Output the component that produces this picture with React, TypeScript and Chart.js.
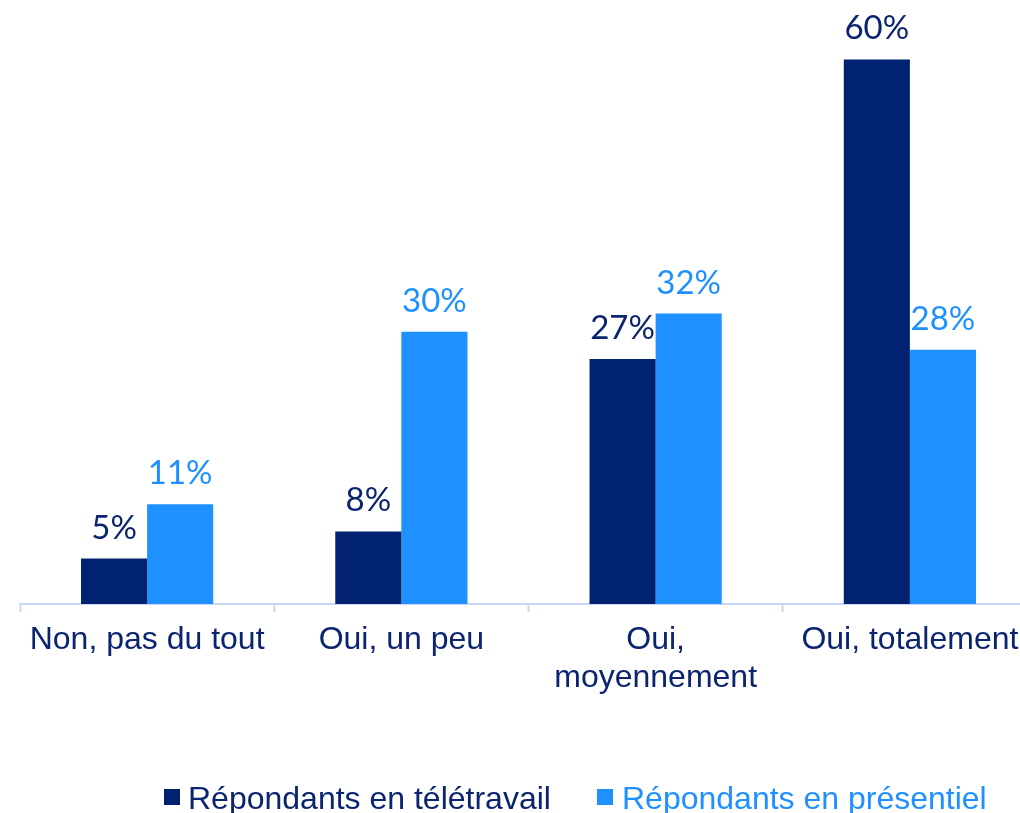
import React, { useEffect, useRef } from "react";
import { Chart, registerables } from "chart.js";

Chart.register(...registerables);

const categories: (string | string[])[] = [
  "Non, pas du tout",
  "Oui, un peu",
  ["Oui,", "moyennement"],
  "Oui, totalement",
];
const teletravail = [5, 8, 27, 60];
const presentiel = [11, 30, 32, 28];
const seriesNames = ["Répondants en télétravail", "Répondants en présentiel"];

const DARK = "#012270";
const LIGHT = "#1e90ff";
const TEXT_DARK = "#0b2470";
const AXIS = "#c9d7f4";

const labelPlugin = {
  id: "valueLabels",
  afterDatasetsDraw(chart: any) {
    const ctx = chart.ctx;
    ctx.save();
    ctx.font = "33px Lato, 'Century Gothic', sans-serif";
    ctx.textAlign = "center";
    ctx.textBaseline = "alphabetic";
    chart.data.datasets.forEach((ds: any, di: number) => {
      const meta = chart.getDatasetMeta(di);
      ctx.fillStyle = di === 0 ? TEXT_DARK : LIGHT;
      meta.data.forEach((bar: any, i: number) => {
        ctx.fillText(`${ds.data[i]}%`, bar.x, bar.y - 20);
      });
    });
    ctx.restore();
  },
};

export default function App() {
  const ref = useRef<HTMLCanvasElement>(null);
  useEffect(() => {
    if (!ref.current) return;
    const chart = new Chart(ref.current, {
      type: "bar",
      data: {
        labels: categories,
        datasets: [
          { label: seriesNames[0], data: teletravail, backgroundColor: DARK },
          { label: seriesNames[1], data: presentiel, backgroundColor: LIGHT },
        ],
      },
      options: {
        animation: false,
        responsive: false,
        layout: { padding: { left: 20, right: 23, top: 14, bottom: 0 } },
        datasets: {
          bar: { categoryPercentage: 0.52, barPercentage: 1 },
        } as any,
        plugins: {
          legend: { display: false },
          tooltip: { enabled: false },
        },
        scales: {
          x: {
            grid: {
              display: true,
              drawOnChartArea: false,
              drawTicks: true,
              tickLength: 8,
              tickColor: AXIS,
              tickWidth: 2,
              offset: true,
            },
            border: { display: true, color: AXIS, width: 2 },
            ticks: {
              color: TEXT_DARK,
              font: { family: "'Liberation Sans', Arial, sans-serif", size: 32, lineHeight: 1.19 },
              padding: 9,
              maxRotation: 0,
              autoSkip: false,
            },
            afterFit: (scale: any) => {
              scale.height = 209;
            },
          },
          y: {
            display: false,
            min: 0,
            max: 65,
          },
        },
      },
      plugins: [labelPlugin],
    });
    return () => chart.destroy();
  }, []);

  const legendText: React.CSSProperties = {
    position: "absolute",
    top: 780,
    fontFamily: "'Liberation Sans', Arial, sans-serif",
    fontSize: 32,
    lineHeight: "36px",
    whiteSpace: "nowrap",
  };
  const square: React.CSSProperties = {
    position: "absolute",
    top: 789,
    width: 16,
    height: 16,
  };

  return (
    <div
      style={{
        position: "fixed",
        left: 0,
        top: 0,
        width: 1020,
        height: 813,
        overflow: "hidden",
        background: "#ffffff",
      }}
    >
      <canvas
        ref={ref}
        width={1060}
        height={813}
        style={{ position: "absolute", left: 0, top: 0, width: 1060, height: 813 }}
      />
      <div style={{ ...square, left: 164, background: DARK }} />
      <div style={{ ...legendText, left: 188, color: TEXT_DARK }}>{seriesNames[0]}</div>
      <div style={{ ...square, left: 597, background: LIGHT }} />
      <div style={{ ...legendText, left: 622, color: LIGHT }}>{seriesNames[1]}</div>
    </div>
  );
}
